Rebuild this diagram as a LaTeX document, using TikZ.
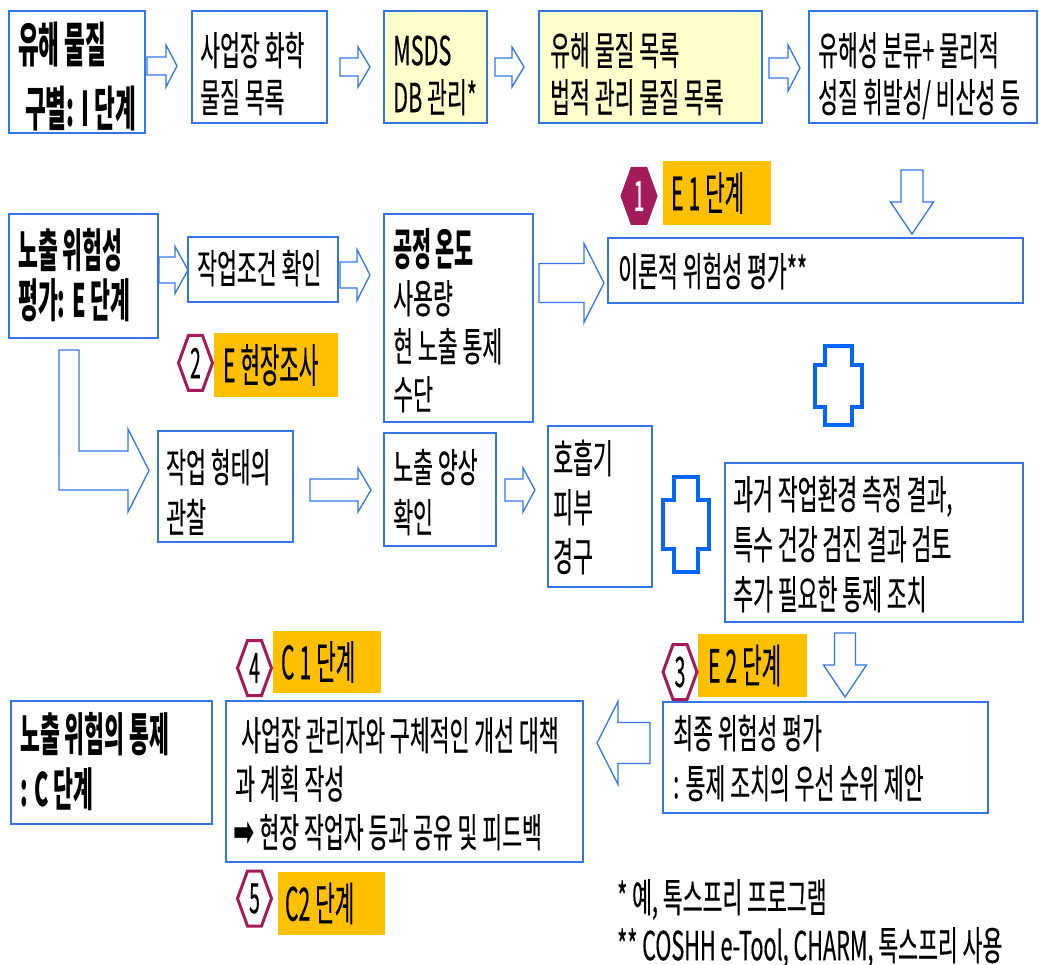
\documentclass[tikz,border=0pt]{standalone}
\usepackage{fontspec}
\newfontfamily\kr[FakeStretch=0.54,FakeBold=0.3]{Noto Sans CJK KR}
\newfontfamily\krb[FakeStretch=0.47]{Noto Sans CJK KR}
\newfontfamily\krn[FakeStretch=0.46,FakeBold=0.3]{Noto Sans CJK KR}
\newfontfamily\dv[FakeStretch=0.55]{DejaVu Sans}
\definecolor{boxblue}{RGB}{52,118,232}
\definecolor{plusblue}{RGB}{0,102,245}
\definecolor{lyellow}{RGB}{255,255,204}
\definecolor{orangeL}{RGB}{255,192,0}
\definecolor{hexmag}{RGB}{163,27,90}
\newcommand\mystrut[1]{\rule{0pt}{#1}}
\newcommand\lsp{\hspace{5pt}}
\tikzset{
  bx/.style={draw=boxblue, line width=1.8pt, fill=white, inner sep=0pt},
  ybx/.style={bx, fill=lyellow},
  txt/.style={anchor=north west, inner sep=0pt, align=left, text=black, font=\kr\fontsize{40}{#1}\selectfont},
  txt/.default=49,
  hdr/.style 2 args={anchor=north west, inner sep=0pt, align=left, text=black, font=\krb\bfseries\fontsize{#1}{#2}\selectfont},
  lbl/.style={fill=orangeL, inner xsep=8pt, inner ysep=0pt, align=left, text=black, font=\krn\fontsize{46}{48}\selectfont},
  barrow/.style={draw=boxblue, line width=1.3pt, fill=white, line join=miter},
  plusx/.style={draw=plusblue, line width=3.5pt, fill=white, line join=miter},
  hexl/.style={draw=hexmag, line width=3pt, line join=miter},
}
% horizontal block arrow: x0, tip x, head start x, y centre, body half, head half
\newcommand\rblock[6]{%
  \draw[barrow] (#1,#4-#5) -- (#3,#4-#5) -- (#3,#4-#6) -- (#2,#4) -- (#3,#4+#6) -- (#3,#4+#5) -- (#1,#4+#5) -- cycle;}
% vertical block arrow: x centre, y0, tip y, head start y, body half, head half
\newcommand\dblock[6]{%
  \draw[barrow] (#1-#5,#2) -- (#1+#5,#2) -- (#1+#5,#4) -- (#1+#6,#4) -- (#1,#3) -- (#1-#6,#4) -- (#1-#5,#4) -- cycle;}
% hexagon badge: name, x, y, fill, text colour, number
\newcommand\hexbadge[6]{%
  \draw[hexl, fill=#4] (#2-17,#3) -- (#2-7,#3-27.5) -- (#2+7,#3-27.5) -- (#2+17,#3) -- (#2+7,#3+27.5) -- (#2-7,#3+27.5) -- cycle;
  \node[font=\krn\fontsize{42}{44}\selectfont, text=#5, inner sep=0pt] (#1) at (#2,#3) {#6};}
% plus sign: x1,x2 (vertical bar), y1,y2 (vertical bar), X1,X2 (horizontal bar), Y1,Y2
\newcommand\plussign[8]{%
  \draw[plusx] (#1,#3) -- (#2,#3) -- (#2,#7) -- (#6,#7) -- (#6,#8) -- (#2,#8) -- (#2,#4) -- (#1,#4) -- (#1,#8) -- (#5,#8) -- (#5,#7) -- (#1,#7) -- cycle;}
\begin{document}
\begin{tikzpicture}[x=1pt,y=-1pt]
\useasboundingbox (0,0) rectangle (1039,965);
\fill[white] (0,0) rectangle (1039,965);

% ---------- row 1 ----------
\node[bx, minimum width=136pt, minimum height=122pt] (b1) at (77,72) {};
\node[hdr={48}{64}] (b1t) at (18,20) {\mystrut{42pt}유해 물질\\\hspace*{7pt}구별: I 단계};

\node[bx, minimum width=135pt, minimum height=112pt] (b2) at (259.5,67) {};
\node[txt=47] (b2t) at (200,29) {\mystrut{36pt}사업장 화학\\물질 목록};

\node[ybx, minimum width=103pt, minimum height=112pt] (b3) at (435.5,67) {};
\node[txt=47] (b3t) at (393,29) {\mystrut{36pt}MSDS\\DB 관리*};

\node[ybx, minimum width=223pt, minimum height=112pt] (b4) at (650.5,67) {};
\node[txt=47] (b4t) at (550,29) {\mystrut{36pt}유해 물질 목록\\법적 관리 물질 목록};

\node[bx, minimum width=228pt, minimum height=112pt] (b5) at (923,67) {};
\node[txt=47] (b5t) at (818,29) {\mystrut{36pt}유해성 분류+ 물리적\\성질 휘발성/ 비산성 등};

\rblock{147}{177}{166}{66}{9}{21}
\rblock{340}{370}{358}{67}{9}{20}
\rblock{495}{524}{512}{67}{9}{20}
\rblock{769}{800}{788}{68}{10}{23}

% ---------- row 2 ----------
\node[bx, minimum width=149pt, minimum height=124pt] (e0) at (83.5,276) {};
\node[hdr={46}{50}] (e0t) at (18,225) {\mystrut{42pt}노출 위험성\\평가: E 단계};

\node[bx, minimum width=150pt, minimum height=65pt] (e1) at (263,269.5) {};
\node[txt] (e1t) at (197,247) {\mystrut{36pt}작업조건 확인};

\node[bx, minimum width=149pt, minimum height=208pt] (e2) at (458.5,318) {};
\node[txt=48] (e2t) at (393,228) {\mystrut{36pt}{\krb\bfseries\fontsize{44}{48}\selectfont 공정 온도}\\사용량\\현 노출 통제\\수단};

\node[bx, minimum width=415pt, minimum height=65pt] (e3) at (815.5,270.5) {};
\node[txt] (e3t) at (618,250) {\mystrut{36pt}이론적 위험성 평가**};

\rblock{159}{188}{175}{270}{13}{23.5}
\rblock{340}{370}{357}{275}{13}{25.5}
\rblock{539}{604}{584}{283}{19.5}{39.5}
\dblock{912}{170}{234}{202}{11}{21.5}

% L-shaped arrow
\draw[barrow] (59,350) -- (79,350) -- (79,451) -- (128,451) -- (128,429) -- (149,470.5) -- (128,512) -- (128,490) -- (59,490) -- cycle;

% ---------- row 3 ----------
\node[bx, minimum width=135pt, minimum height=111pt] (e4) at (225.5,486.5) {};
\node[txt=50] (e4t) at (166,446) {\mystrut{36pt}작업 형태의\\관찰};

\node[bx, minimum width=112pt, minimum height=113pt] (e5) at (440,489.5) {};
\node[txt=50] (e5t) at (393,446) {\mystrut{36pt}노출 양상\\확인};

\node[bx, minimum width=104pt, minimum height=161pt] (e6) at (600,506.5) {};
\node[txt=49] (e6t) at (553,437) {\mystrut{36pt}호흡기\\피부\\경구};

\node[bx, minimum width=298pt, minimum height=159pt] (e7) at (874,542.5) {};
\node[txt=50] (e7t) at (733,473) {\mystrut{36pt}과거 작업환경 측정 결과,\\특수 건강 검진 결과 검토\\추가 필요한 통제 조치};

\rblock{310}{371}{358}{490}{11}{22}
\rblock{505}{535}{523}{490}{11}{22}

\plussign{825}{852}{346}{425}{815}{862}{365}{407}
\plussign{674}{698}{477}{572}{663}{709}{500}{549}

% ---------- row 4 ----------
\node[bx, minimum width=325pt, minimum height=111pt] (e8) at (825.5,757.5) {};
\node[txt=50] (e8t) at (673,712) {\mystrut{36pt}최종 위험성 평가\\: 통제 조치의 우선 순위 제안};

\node[bx, minimum width=201pt, minimum height=123pt] (c0) at (111.5,762.5) {};
\node[hdr={46}{55}] (c0t) at (20,709) {\mystrut{42pt}노출 위험의 통제\\: C 단계};

\node[bx, minimum width=357pt, minimum height=161pt] (c1) at (404.5,781.5) {};
\node[txt=48.5] (c1t) at (233,714) {\mystrut{36pt}\hspace*{8pt}사업장 관리자와 구체적인 개선 대책\\\hspace*{2pt}과 계획 작성\\{\dv\fontsize{46}{46}\selectfont ➡}\hspace*{5pt}현장 작업자 등과 공유 및 피드백};

\dblock{845}{633}{697}{665}{10.5}{21.5}
\rblock{650}{597}{618}{743}{20.5}{41.5}

% ---------- orange labels ----------
\node[lbl, minimum width=108pt, minimum height=64pt, text width=92pt] (o1) at (717,193) {E\lsp 1\lsp 단계};
\node[lbl, minimum width=124pt, minimum height=64pt, text width=106pt, inner xsep=9pt] (o2) at (276,365) {E\lsp 현장조사};
\node[lbl, minimum width=109pt, minimum height=63pt, text width=89pt, inner xsep=10pt] (o3) at (752.5,665.5) {E\lsp 2\lsp 단계};
\node[lbl, minimum width=108pt, minimum height=62pt, text width=92pt] (o4) at (327,662) {C\lsp 1\lsp 단계};
\node[lbl, minimum width=107pt, minimum height=63pt, text width=93pt, inner xsep=7pt] (o5) at (331.5,903.5) {C2\lsp 단계};

% ---------- hexagon badges ----------
\hexbadge{h1}{639}{196}{hexmag}{white}{1}
\hexbadge{h2}{195.5}{363}{white}{black}{2}
\hexbadge{h3}{680}{672}{white}{black}{3}
\hexbadge{h4}{254.5}{668}{white}{black}{4}
\hexbadge{h5}{254.5}{898.5}{white}{black}{5}

% ---------- footnotes ----------
\node[txt] (f1) at (617,876) {\mystrut{36pt}* 예, 톡스프리 프로그램};
\node[txt] (f2) at (617,924) {\mystrut{36pt}** COSHH e-Tool, CHARM, 톡스프리 사용};
\end{tikzpicture}
\end{document}
